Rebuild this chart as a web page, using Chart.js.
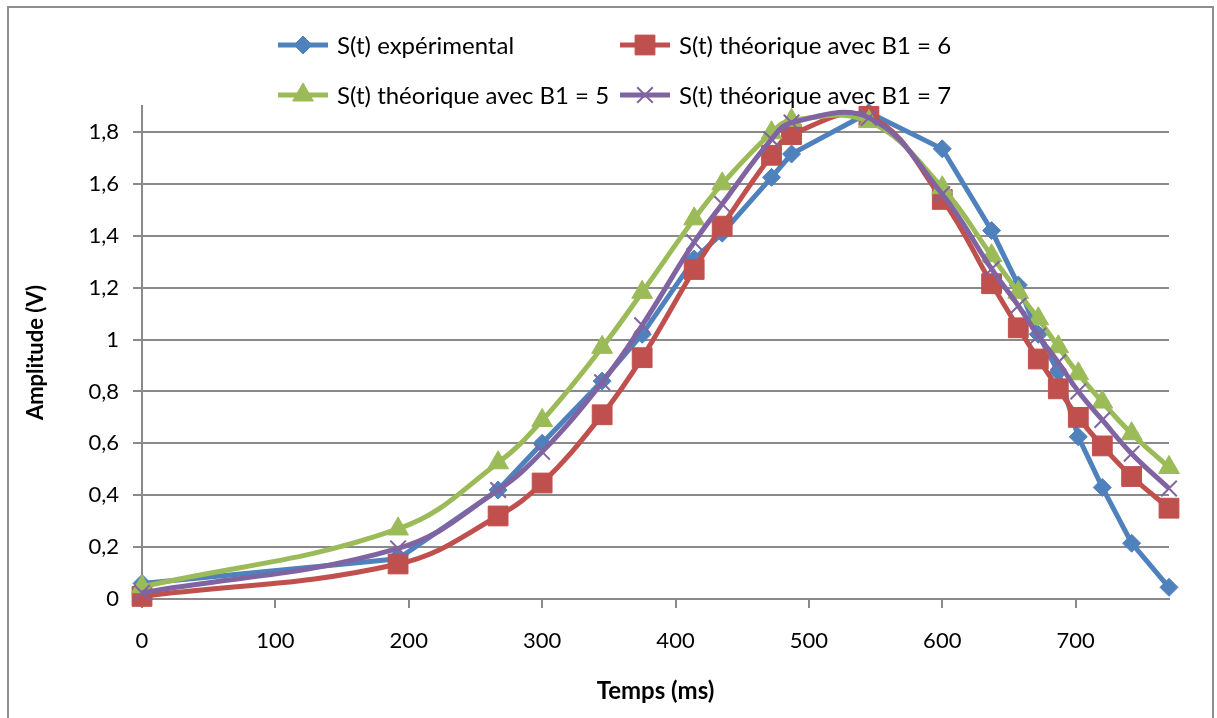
<!DOCTYPE html>
<html>
<head>
<meta charset="utf-8">
<script src="https://cdn.jsdelivr.net/npm/chart.js@4.4.0/dist/chart.umd.min.js"></script>
<style>
  body { margin: 0; background: #fff; }
  #wrap { position: relative; width: 1217px; height: 718px; }
  #frame { position: absolute; left: 7px; top: 6px; width: 1207px; height: 730px; border: 2px solid #8e8e8e; box-sizing: border-box; pointer-events: none; }
</style>
</head>
<body>
<div id="wrap">
  <canvas id="chart"></canvas>
  <div id="frame"></div>
</div>
<script>
// data
const temps = [0, 192, 267, 300, 345, 375, 414, 435, 472, 487, 545, 600, 637, 657, 672, 687, 702, 720, 742, 770];
const sExp = [0.06, 0.155, 0.42, 0.60, 0.84, 1.02, 1.31, 1.41, 1.625, 1.715, 1.875, 1.735, 1.42, 1.21, 1.02, 0.875, 0.625, 0.43, 0.215, 0.045];
const sB6 = [0.01, 0.135, 0.32, 0.447, 0.71, 0.93, 1.27, 1.437, 1.71, 1.79, 1.86, 1.54, 1.215, 1.045, 0.925, 0.81, 0.70, 0.59, 0.472, 0.35];
const sB5 = [0.047, 0.27, 0.525, 0.688, 0.97, 1.182, 1.465, 1.6, 1.797, 1.845, 1.84, 1.585, 1.323, 1.182, 1.08, 0.972, 0.868, 0.759, 0.637, 0.507];
const sB7 = [0.024, 0.195, 0.42, 0.567, 0.835, 1.055, 1.375, 1.522, 1.772, 1.836, 1.855, 1.56, 1.272, 1.13, 1.015, 0.912, 0.80, 0.69, 0.56, 0.426];
const seriesNames = ["S(t) expérimental", "S(t) théorique avec B1 = 6", "S(t) théorique avec B1 = 5", "S(t) théorique avec B1 = 7"];
const xTicks = [0, 100, 200, 300, 400, 500, 600, 700];
const yTicks = [0, 0.2, 0.4, 0.6, 0.8, 1, 1.2, 1.4, 1.6, 1.8];

const FONT = "Lato";
const GRID = "#8a8a8a";

function toPoints(values) {
  return temps.map((t, i) => ({ x: t, y: values[i] }));
}

function makeSet(label, values, color, style, radius, tension, order) {
  return {
    label: label,
    data: toPoints(values),
    borderColor: color,
    backgroundColor: color,
    borderWidth: 5,
    pointStyle: style,
    pointRadius: radius,
    pointHoverRadius: radius,
    pointBackgroundColor: color,
    pointBorderColor: color,
    pointBorderWidth: style == "crossRot" ? 2 : 1,
    tension: tension,
    clip: false,
    order: order,
  };
}

// legend laid out like the Excel one: 2 columns x 2 rows
const legendCols = [278, 620];
const legendRows = [45, 95];

const excelLegend = {
  id: "excelLegend",
  afterDraw(chart) {
    const ctx = chart.ctx;
    chart.data.datasets.forEach((ds, i) => {
      const x = legendCols[i % 2];
      const y = legendRows[Math.floor(i / 2)];
      ctx.save();
      ctx.strokeStyle = ds.borderColor;
      ctx.lineWidth = ds.borderWidth;
      ctx.beginPath();
      ctx.moveTo(x, y);
      ctx.lineTo(x + 50, y);
      ctx.stroke();
      ctx.fillStyle = ds.pointBackgroundColor;
      ctx.strokeStyle = ds.pointBorderColor;
      ctx.lineWidth = ds.pointBorderWidth;
      Chart.helpers.drawPoint(ctx, { pointStyle: ds.pointStyle, radius: ds.pointRadius, borderWidth: ds.pointBorderWidth, rotation: 0 }, x + 25, y);
      ctx.fillStyle = "#000";
      ctx.font = "24px " + FONT;
      ctx.textBaseline = "middle";
      ctx.textAlign = "left";
      ctx.fillText(ds.label, x + 59, y + 1);
      ctx.restore();
    });
  },
};

const config = {
  type: "line",
  data: {
    datasets: [
      makeSet(seriesNames[0], sExp, "#4F81BD", "rectRot", 9, 0, 4),
      makeSet(seriesNames[1], sB6, "#C0504D", "rect", 14, 0.4, 3),
      makeSet(seriesNames[2], sB5, "#9BBB59", "triangle", 12, 0.4, 2),
      makeSet(seriesNames[3], sB7, "#8064A2", "crossRot", 11, 0.4, 1),
    ],
  },
  options: {
    responsive: true,
    maintainAspectRatio: false,
    animation: false,
    layout: { padding: { top: 106, right: 48, bottom: 0, left: 12 } },
    plugins: { legend: { display: false }, tooltip: { enabled: false } },
    scales: {
      x: {
        type: "linear",
        min: 0,
        max: 770,
        afterBuildTicks: (axis) => {
          axis.ticks = xTicks.map((v) => ({ value: v }));
        },
        afterFit: (axis) => {
          axis.height = 119;
        },
        ticks: { color: "#000", padding: 20, maxRotation: 0, font: { family: FONT, size: 22 } },
        grid: { drawOnChartArea: false, tickLength: 9, color: GRID, lineWidth: 2 },
        border: { color: GRID, width: 2 },
        title: {
          display: true,
          text: "Temps (ms)",
          color: "#000",
          font: { family: FONT, size: 24, weight: "bold" },
          padding: { top: 0, bottom: 12 },
        },
      },
      y: {
        min: 0,
        max: 1.9,
        afterBuildTicks: (axis) => {
          axis.ticks = yTicks.map((v) => ({ value: v }));
        },
        afterFit: (axis) => {
          axis.width = 130;
        },
        ticks: {
          color: "#000",
          padding: 14,
          font: { family: FONT, size: 22 },
          callback: (v) => String(Math.round(v * 10) / 10).replace(".", ","),
        },
        grid: { tickLength: 9, color: GRID, lineWidth: 2 },
        border: { color: GRID, width: 2 },
        title: {
          display: true,
          text: "Amplitude (V)",
          color: "#000",
          font: { family: FONT, size: 22, weight: "bold" },
          padding: { top: 11, bottom: 0 },
        },
      },
    },
  },
  plugins: [excelLegend],
};

const chart = new Chart(document.getElementById("chart"), config);
</script>
</body>
</html>
